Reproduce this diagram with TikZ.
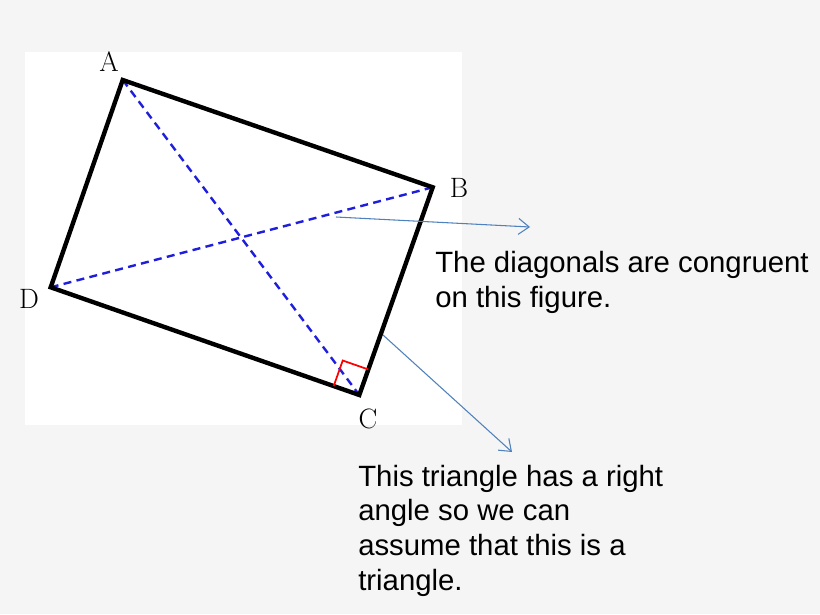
\documentclass[tikz,border=0pt]{standalone}
\usepackage{fontspec}
\usepackage{xcolor}
\usepackage{tikz}
\usetikzlibrary{arrows.meta,calc}
\newfontfamily\notefont{Liberation Sans}
\definecolor{bgcol}{RGB}{245,245,245}
\definecolor{diagblue}{RGB}{30,30,220}
\definecolor{callout}{RGB}{79,129,189}

\begin{document}
\begin{tikzpicture}[>={Straight Barb[length=8pt,width=12pt]},x=.75pt,y=-.75pt,
	side/.style={line width=3.3pt,line join=miter},
	diag/.style={diagblue,line width=1.8pt,dash pattern=on 6pt off 4pt},
	callarrow/.style={->,callout,line width=.8pt},
	vertex/.style={inner sep=0,font=\fontsize{21}{25}\selectfont},
	note/.style={anchor=base west,align=left,inner sep=0,font=\notefont\fontsize{22}{26}\selectfont}]
	\useasboundingbox[fill=bgcol] (0,0) rectangle (820,614);
	\fill[white] (25,52) rectangle (462,425);
	\coordinate (A) at (122.7,80);
	\coordinate (B) at (432.7,187.3);
	\coordinate (C) at (359.3,395);
	\coordinate (D) at (50.7,287.3);
	% diagonals first, sides on top
	\draw[diag] (A)--(C);
	\draw[diag] (D)--(B);
	\draw[side] (A)--(B)--(C)--(D)--cycle;
	% right angle at C
	\coordinate (rD) at ($(C)!.083!(D)$);
	\coordinate (rB) at ($(C)!.123!(B)$);
	\draw[red,line width=1.3pt] (rD)--($(rD)+(rB)-(C)$)--(rB);
	\node[vertex] (lA) at (109,62) {A};
	\node[vertex] (lB) at (459,188) {B};
	\node[vertex] (lC) at (368,419) {C};
	\node[vertex] (lD) at (29,299) {D};
	% callouts (anchored on the last line)
	\node[note] (congr) at (435,307) {The diagonals are congruent\\on this figure.};
	\node[note] (tri) at (358,590) {This triangle has a right\\angle so we can\\assume that this is a\\triangle.};
	\coordinate (s1) at (336,217);
	\coordinate (e1) at (530,227);
	\coordinate (s2) at (383,335);
	\coordinate (e2) at (512,452);
	\draw[callarrow] (s1)--(e1);
	\draw[callarrow] (s2)--(e2);
\end{tikzpicture}
\end{document}
